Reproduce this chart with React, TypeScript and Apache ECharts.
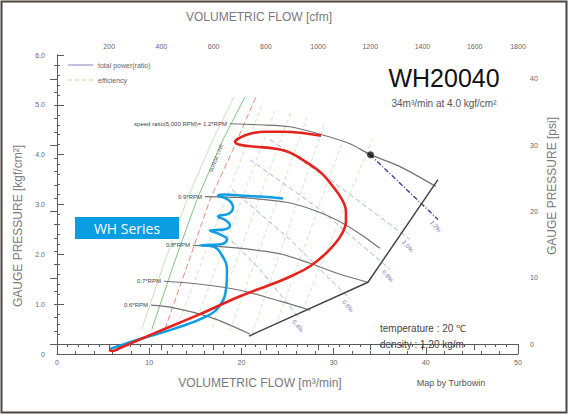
import React, { useEffect, useRef } from "react";
import * as echarts from "echarts";

// ---- axes / tick labels ----
const flowTicks = [0, 10, 20, 30, 40, 50];
const cfmLabelValues = [200, 400, 600, 800, 1000, 1200, 1400, 1600, 1766];
const cfmMinorTicks = [40, 80, 120, 160, 200, 240, 280, 320, 360, 400, 440, 480, 520, 560, 600, 640, 680, 720, 760, 800, 840, 880, 920, 960, 1000, 1040, 1080, 1120, 1160, 1200, 1240, 1280, 1320, 1360, 1400, 1440, 1480, 1520, 1560, 1600, 1640, 1680, 1720, 1766];
const psiLabelValues = [0, 10, 20, 30, 40];
const psiMinorTicks = [0, 2, 4, 6, 8, 10, 12, 14, 16, 18, 20, 22, 24, 26, 28, 30, 32, 34, 36, 38, 40, 42];

// ---- hand-drawn curves ----
const redCurve: [number, number][] = [
  [28.63, 4.38], [26.36, 4.44], [24.51, 4.46], [22.56, 4.46], [20.93, 4.42], [19.85, 4.34], [19.31, 4.26],
  [19.85, 4.2], [21.48, 4.16], [23.64, 4.12], [25.27, 4.04], [27.11, 3.84], [28.74, 3.62], [29.93, 3.36],
  [30.91, 3.1], [31.34, 2.86], [31.34, 2.66], [30.8, 2.38], [29.39, 2.06], [27.44, 1.76], [25.6, 1.58],
  [23.86, 1.44], [19.85, 1.16], [15.51, 0.8], [10.85, 0.44], [6.83, 0.12], [6.07, 0.06], [5.64, 0.08],
];
const blueCurve: [number, number][] = [
  [24.51, 3.12], [22.02, 3.16], [19.85, 3.18], [18.22, 3.2], [17.46, 3.18], [18.55, 3.1], [19.09, 2.94],
  [18.66, 2.82], [17.46, 2.76], [18.33, 2.68], [18.76, 2.58], [18.11, 2.5], [16.59, 2.48], [17.68, 2.4],
  [18.44, 2.3], [17.79, 2.2], [15.51, 2.18], [16.81, 2.16], [17.9, 1.98], [18.44, 1.66], [18.33, 1.3],
  [17.68, 0.98], [16.27, 0.76], [12.58, 0.5], [9.0, 0.3], [5.75, 0.1],
];

// ---- compressor map ----
const designPoint: [number, number][] = [[34, 4.0]];
const speedLabels = ["speed ratio(5,000 RPM)= 1.2*RPM", "0.9*RPM", "0.8*RPM", "0.7*RPM", "0.6*RPM"];
const speedLines: [number, number][][] = [
  [[18.76, 4.62], [22.02, 4.6], [25.27, 4.56], [28.74, 4.4], [31.78, 4.22], [34, 4.0], [37.2, 3.76], [41.11, 3.36]],
  [[16.05, 3.16], [19.85, 3.14], [25.05, 3.04], [28.52, 2.84], [31.24, 2.6], [33.41, 2.34], [35.03, 2.12]],
  [[14.75, 2.18], [18.76, 2.14], [23.97, 2.02], [27.44, 1.82], [30.69, 1.6], [33.73, 1.44]],
  [[11.6, 1.46], [15.51, 1.4], [19.85, 1.28], [24.19, 1.06], [27.44, 0.88]],
  [[10.2, 0.98], [12.26, 0.94], [16.59, 0.74], [20.93, 0.4]],
];
const chokeLine: [number, number][] = [[41.32, 3.5], [33.73, 1.44], [20.82, 0.36]];
const surgeLine: [number, number][] = [[10.3, 0.5], [12.58, 1.76], [15.18, 3.1], [18.0, 4.3], [20.39, 5.16]];
const surgeMargin: [number, number][] = [[11.71, 0.5], [14.1, 1.76], [16.6, 3.1], [19.09, 4.1], [21.58, 5.16]];
const surgeOuter: [number, number][] = [[9.2, 0.5], [11.5, 1.76], [14.1, 3.1], [16.9, 4.3], [19.2, 5.16]];
const powerLabels = ["1.2%", "1.0%", "0.8%", "0.6%", "0.4%"];
const powerLines: [number, number][][] = [
  [[33.95, 4.0], [41.32, 2.7]],
  [[23.1, 4.3], [29.61, 3.5], [38.29, 2.3]],
  [[20.93, 3.9], [28.52, 2.9], [36.12, 1.7]],
  [[18.98, 3.3], [25.27, 2.3], [31.78, 1.1]],
  [[17.68, 2.5], [22.02, 1.7], [26.36, 0.7]],
];
const efficiencyLines: [number, number][][] = [
  [[13.34, 0.7], [22.23, 5.0]],
  [[14.97, 0.6], [23.75, 4.94]],
  [[16.81, 0.54], [25.38, 4.86]],
  [[18.76, 0.46], [27.11, 4.74]],
  [[21.15, 0.4], [28.96, 4.6]],
  [[23.97, 0.7], [31.24, 4.4]],
  [[26.9, 1.0], [34.16, 4.3]],
];

const FONT = "Liberation Sans, Arial, sans-serif";

function lineSeries(data: any[], color: string, width: number, type: any, z: number, extra: any = {}) {
  return {
    type: "line",
    data,
    symbol: "none",
    silent: true,
    z,
    lineStyle: { color, width, type },
    ...extra,
  };
}

function labelledSeries(data: any[], color: string, width: number, type: any, z: number, extra: any = {}) {
  return {
    type: "line",
    data,
    symbol: "circle",
    symbolSize: 0.01,
    showSymbol: true,
    itemStyle: { color },
    silent: true,
    z,
    lineStyle: { color, width, type },
    label: { show: false },
    ...extra,
  };
}

export default function App() {
  const ref = useRef<HTMLDivElement>(null);
  useEffect(() => {
    if (!ref.current) return;
    const chart = echarts.init(ref.current, null, { renderer: "svg" });
    const series: any[] = [];

    efficiencyLines.forEach((l) => series.push(lineSeries(l, "#cde3b2", 0.9, [4, 3], 2)));
    series.push(lineSeries(surgeOuter, "#c2e0b8", 0.9, "solid", 3));
    series.push(lineSeries(surgeLine, "#7ec47e", 1, "solid", 3));
    series.push(lineSeries(surgeMargin, "#e58a78", 1, [6, 3], 3));
    powerLines.forEach((l, i) => {
      const data: any[] = l.map((p, j) =>
        j === l.length - 1
          ? { value: p, label: { show: true, position: "bottom", formatter: powerLabels[i], fontSize: 6, color: "#6a70b0", rotate: -50, distance: 5, fontFamily: FONT } }
          : { value: p }
      );
      series.push(labelledSeries(data, i === 0 ? "#3a4690" : "#a3a8cc", i === 0 ? 1.4 : 0.9, i === 0 ? [5, 2, 1, 2] : [5, 3], 4));
    });
    speedLines.forEach((l, i) => {
      const data: any[] = l.map((p, j) =>
        j === 0
          ? { value: p, label: { show: true, position: "left", formatter: speedLabels[i], fontSize: 6, color: "#444", distance: 3, fontFamily: FONT } }
          : { value: p }
      );
      series.push(labelledSeries(data, "#737373", 1.2, "solid", 5, { smooth: 0.3 }));
    });
    series.push(lineSeries(chokeLine, "#454545", 1.5, "solid", 5));
    series.push({ type: "scatter", data: designPoint, symbol: "circle", symbolSize: 7, itemStyle: { color: "#111" }, z: 6, silent: true });
    series.push(lineSeries(blueCurve, "#0f9de4", 2.5, "solid", 8, { smooth: 0.45 }));
    series.push(lineSeries(redCurve, "#e4231c", 2.6, "solid", 9, { smooth: 0.4 }));

    const axisLineStyle = { color: "#5a5a5a", width: 1 };
    const labelStyle = { fontSize: 7, color: "#666666", fontFamily: FONT };

    chart.setOption({
      animation: false,
      backgroundColor: "#ffffff",
      grid: { left: 57, right: 50, top: 55, bottom: 60 },
      xAxis: [
        {
          type: "value", position: "bottom", min: 0, max: 50, interval: 10,
          axisLine: { lineStyle: axisLineStyle },
          axisTick: { inside: true, length: 6, lineStyle: axisLineStyle },
          minorTick: { show: true, splitNumber: 5, length: 3, lineStyle: axisLineStyle },
          axisLabel: { ...labelStyle, margin: 5, customValues: flowTicks },
          splitLine: { show: false },
        },
        {
          type: "value", position: "top", min: 0, max: 1766,
          axisLine: { lineStyle: axisLineStyle },
          axisTick: { inside: true, length: 6, lineStyle: axisLineStyle, customValues: cfmLabelValues },
          axisLabel: { ...labelStyle, margin: 5, customValues: cfmLabelValues, formatter: (v: number) => (v > 1700 ? "1800" : String(v)) },
          splitLine: { show: false },
        },
        {
          type: "value", position: "top", min: 0, max: 1766,
          axisLine: { show: false },
          axisTick: { inside: true, length: 3, lineStyle: axisLineStyle, customValues: cfmMinorTicks },
          axisLabel: { show: false },
          splitLine: { show: false },
        },
      ],
      yAxis: [
        {
          type: "value", position: "left", min: 0, max: 6, interval: 1,
          axisLine: { lineStyle: axisLineStyle },
          axisTick: { inside: true, length: 7, lineStyle: axisLineStyle },
          minorTick: { show: true, splitNumber: 5, length: 3, lineStyle: axisLineStyle },
          axisLabel: { ...labelStyle, margin: 12, formatter: (v: number) => (v === 0 ? "0" : v.toFixed(1)) },
          splitLine: { show: false },
        },
        {
          type: "value", position: "right", min: -1.5, max: 43.6,
          axisLine: { show: true, lineStyle: axisLineStyle },
          axisTick: { inside: true, length: 7, lineStyle: axisLineStyle, customValues: psiLabelValues },
          axisLabel: { ...labelStyle, margin: 12, customValues: psiLabelValues },
          splitLine: { show: false },
        },
        {
          type: "value", position: "right", min: -1.5, max: 43.6,
          axisLine: { show: false },
          axisTick: { inside: true, length: 3, lineStyle: axisLineStyle, customValues: psiMinorTicks },
          axisLabel: { show: false },
          splitLine: { show: false },
        },
      ],
      series,
      graphic: [
        { type: "rect", shape: { x: 1.5, y: 1.5, width: 565, height: 411 }, style: { fill: "none", stroke: "#4c4540", lineWidth: 2 }, z: 100, silent: true },
        { type: "text", x: 259, y: 17, style: { text: "VOLUMETRIC FLOW [cfm]", fontSize: 12, fill: "#7a7a7a", fontFamily: FONT, align: "center", verticalAlign: "middle" }, z: 100 },
        { type: "text", x: 260, y: 383, style: { text: "VOLUMETRIC FLOW [m³/min]", fontSize: 12, fill: "#7a7a7a", fontFamily: FONT, align: "center", verticalAlign: "middle" }, z: 100 },
        { type: "text", x: 451, y: 383, style: { text: "Map by Turbowin", fontSize: 9, fill: "#555", fontFamily: FONT, align: "center", verticalAlign: "middle" }, z: 100 },
        { type: "text", x: 18, y: 226, rotation: Math.PI / 2, style: { text: "GAUGE PRESSURE [kgf/cm²]", fontSize: 12, fill: "#7a7a7a", fontFamily: FONT, align: "center", verticalAlign: "middle" }, z: 100 },
        { type: "text", x: 552, y: 186, rotation: Math.PI / 2, style: { text: "GAUGE PRESSURE [psi]", fontSize: 12, fill: "#7a7a7a", fontFamily: FONT, align: "center", verticalAlign: "middle" }, z: 100 },
        { type: "text", x: 444, y: 78, style: { text: "WH20040", fontSize: 25, fill: "#111", fontFamily: FONT, align: "center", verticalAlign: "middle" }, z: 100 },
        { type: "text", x: 444, y: 103, style: { text: "34m³/min at 4.0 kgf/cm²", fontSize: 10, fill: "#555", fontFamily: FONT, align: "center", verticalAlign: "middle" }, z: 100 },
        { type: "text", x: 380, y: 328, style: { text: "temperature : 20 ℃", fontSize: 10, fill: "#444", fontFamily: FONT, align: "left", verticalAlign: "middle" }, z: 100 },
        { type: "text", x: 380, y: 344, style: { text: "density : 1.20 kg/m", fontSize: 10, fill: "#444", fontFamily: FONT, align: "left", verticalAlign: "middle" }, z: 100 },
        { type: "line", shape: { x1: 68, y1: 65, x2: 93, y2: 65 }, style: { stroke: "#7a86b8", lineWidth: 1 }, z: 100 },
        { type: "text", x: 98, y: 65, style: { text: "total power(ratio)", fontSize: 7, fill: "#666", fontFamily: FONT, align: "left", verticalAlign: "middle" }, z: 100 },
        { type: "line", shape: { x1: 68, y1: 80, x2: 93, y2: 80 }, style: { stroke: "#c3d896", lineWidth: 1, lineDash: [4, 3] }, z: 100 },
        { type: "text", x: 98, y: 80, style: { text: "efficiency", fontSize: 7, fill: "#666", fontFamily: FONT, align: "left", verticalAlign: "middle" }, z: 100 },
        { type: "text", x: 216, y: 158, rotation: (68 * Math.PI) / 180, style: { text: "SURGE LINE", fontSize: 5, fill: "#555", fontFamily: FONT, align: "center", verticalAlign: "middle" }, z: 100 },
        { type: "rect", shape: { x: 75, y: 217, width: 104, height: 22 }, style: { fill: "#0a9de2" }, z: 110 },
        { type: "text", x: 127, y: 228, style: { text: "WH Series", fontSize: 14, fill: "#ffffff", fontFamily: "Open Sans, Noto Sans, sans-serif", align: "center", verticalAlign: "middle" }, z: 111 },
      ],
    });
    return () => chart.dispose();
  }, []);
  return <div ref={ref} style={{ position: "absolute", left: 0, top: 0, width: 568, height: 414, background: "#fff" }} />;
}
